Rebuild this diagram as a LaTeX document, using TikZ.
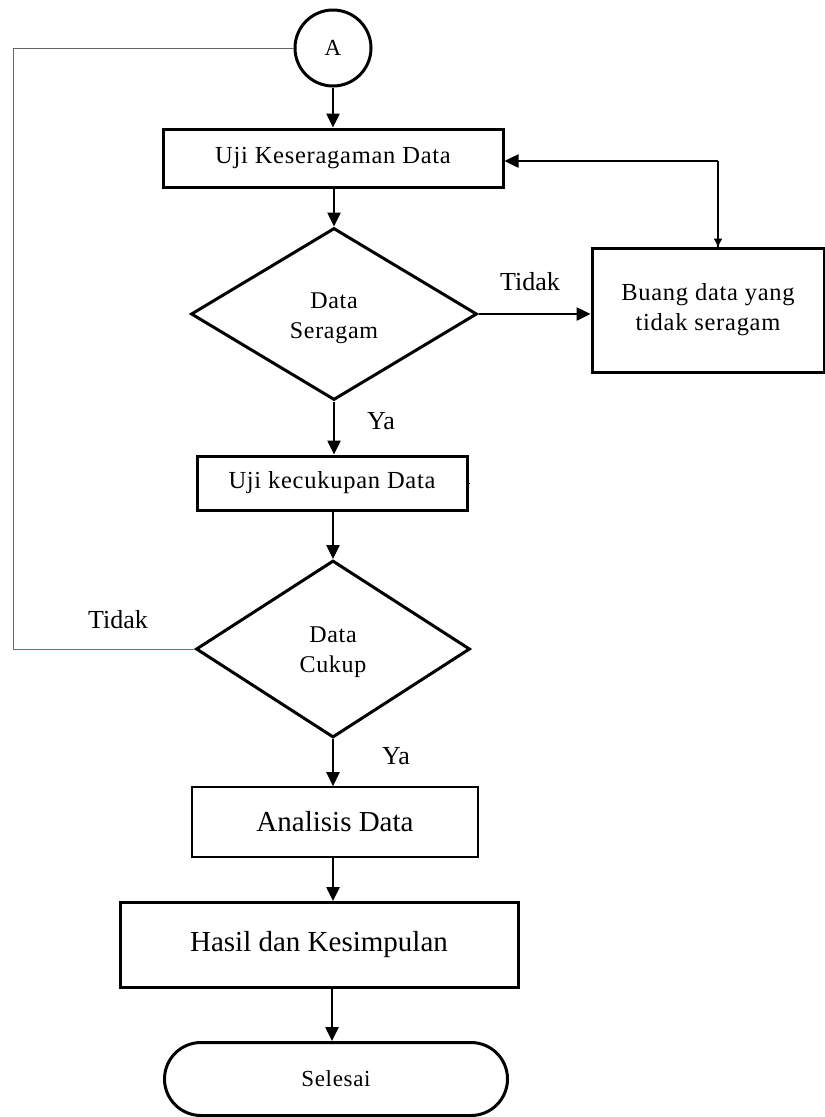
\documentclass[tikz,border=0pt]{standalone}
\usepackage{fontspec}
\setmainfont{Liberation Serif}
\newfontfamily\spc[LetterSpace=3]{Liberation Serif}
\usetikzlibrary{arrows.meta,shapes.geometric,shapes.misc}
\begin{document}
\begin{tikzpicture}[x=1pt,y=-1pt,
  thickbox/.style={draw,line width=3pt,rectangle,minimum height=58pt,inner sep=0pt,align=center,font=\fontsize{24.5}{30}\spc},
  thinbox/.style={draw,line width=1.6pt,rectangle,inner sep=0pt,align=center,font=\fontsize{29}{33}\selectfont},
  decision/.style={draw,line width=3pt,diamond,aspect=1.66,inner sep=0pt,minimum width=286pt,minimum height=172pt},
  dtext/.style={align=center,inner sep=0pt,font=\fontsize{24}{30}\spc},
  arr/.style={line width=2.5pt,-{Triangle[length=14pt,width=13pt]}},
  sarr/.style={line width=1.5pt,-{Triangle[length=8pt,width=8pt]}},
  lbl/.style={font=\fontsize{26}{30}\selectfont,inner sep=0pt},
  loopline/.style={line width=1pt,draw=gray!80!black}
]
\useasboundingbox (0,0) rectangle (825,1117);
\fill[white] (0,0) rectangle (825,1117);

\node[draw,circle,line width=3pt,minimum size=76pt,inner sep=0pt,font=\fontsize{23}{26}\selectfont] (A) at (333,48) {A};

\node[thickbox,minimum width=340pt,minimum height=58pt] (uk) at (333,158) {Uji Keseragaman Data};

\node[decision] (d1) at (334,314) {};
\node[dtext] (d1t) at (334,318) {Data\\Seragam};

\node[thickbox,minimum width=232pt,minimum height=124pt] (buang) at (708,310) {Buang data yang\\tidak seragam};

\node[thickbox,minimum width=270pt,minimum height=54pt] (ukd) at (332,483) {Uji kecukupan Data};

\node[decision,minimum width=274pt,minimum height=177pt] (d2) at (333,649) {};
\node[dtext] (d2t) at (333,652) {Data\\Cukup};

\node[thinbox,minimum width=286pt,minimum height=70pt] (an) at (335,822) {Analisis Data};

\node[draw,line width=3pt,rectangle,inner sep=0pt,minimum width=398pt,minimum height=85pt,font=\fontsize{29}{33}\selectfont] (hk) at (319,945) {Hasil dan Kesimpulan};

\node[draw,line width=3pt,rounded rectangle,inner sep=0pt,minimum width=343pt,minimum height=73pt,font=\fontsize{23}{26}\spc] (sel) at (336,1079) {Selesai};

% connectors
\draw[arr] (A.south) -- (uk.north -| A.south);
\draw[arr] (uk.south -| d1.north) -- (d1.north);
\draw[arr] (d1.east) -- (d1.east -| buang.west);
\node[lbl] (t1) at (530,282) {Tidak};
\coordinate (c1) at (718,161);
\draw[line width=1.5pt] (c1) -- (c1 |- buang.north);
\draw[sarr] (c1) -- (c1 |- buang.north);
\draw[arr] (c1) -- (uk.east |- c1);
\draw[arr] (d1.south) -- (d1.south |- ukd.north);
\node[lbl] (y1) at (381,421) {Ya};
\draw[arr] (ukd.south -| d2.north) -- (d2.north);
\coordinate (tk) at (470,483);
\draw[line width=1pt] (ukd.east) -- (tk);
\draw[arr] (d2.south) -- (d2.south |- an.north);
\node[lbl] (y2) at (396,756) {Ya};
\draw[arr] (an.south -| d2.south) -- (hk.north -| d2.south);
\draw[arr] (hk.south -| 332,0) -- (sel.north -| 332,0);

% loop back
\coordinate (l1) at (13,48);
\coordinate (l2) at (13,649);
\draw[loopline] (A.west) -- (l1) -- (l2);
\draw[line width=1pt,draw={rgb,255:red,70;green,120;blue,190}] (l2) -- (d2.west);
\node[lbl] (t2) at (118,620) {Tidak};
\end{tikzpicture}
\end{document}
